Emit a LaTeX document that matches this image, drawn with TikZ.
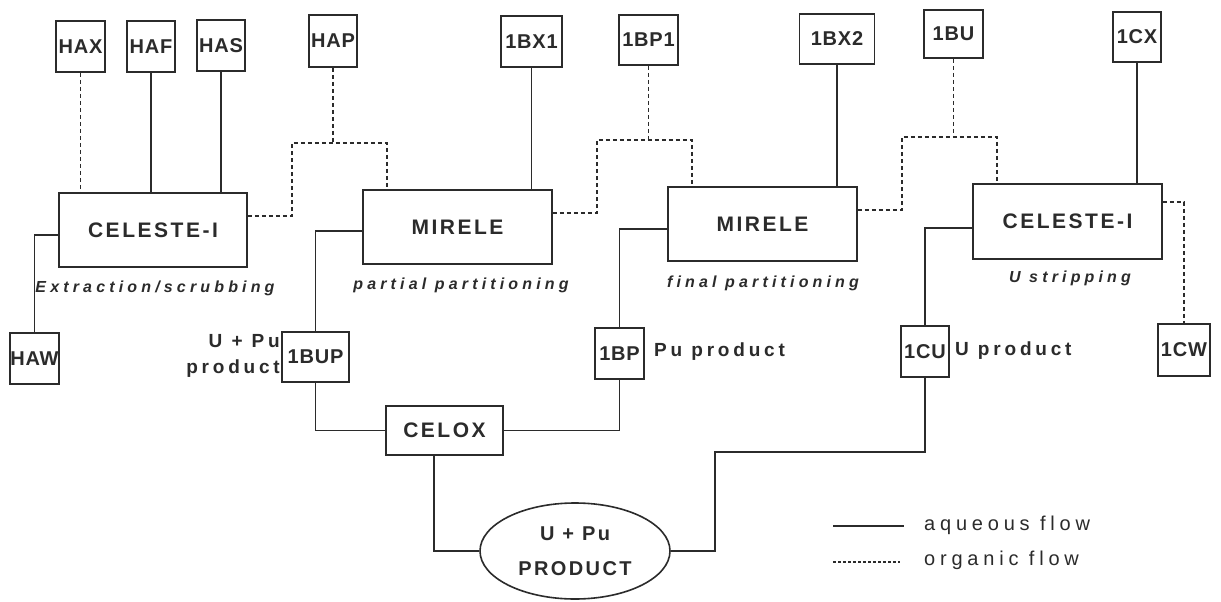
\documentclass[tikz,border=0pt]{standalone}
\usepackage{fontspec}
\setmainfont{Liberation Sans}
\newfontfamily\boxf[LetterSpace=4]{Liberation Sans}
\newfontfamily\bigf[LetterSpace=12]{Liberation Sans}
\newfontfamily\sidef[LetterSpace=20]{Liberation Sans}
\newfontfamily\itf[LetterSpace=26]{Liberation Sans}
\newfontfamily\legf[LetterSpace=24]{Liberation Sans}
\usetikzlibrary{shapes.geometric}
\definecolor{ink}{gray}{0.17}
\begin{document}
\begin{tikzpicture}[x=1pt,y=-1pt,
  aq/.style={draw=ink,line width=1.6pt},
  org/.style={draw=ink,line width=1.5pt,dash pattern=on 4pt off 3pt},
  sbox/.style={draw=ink,line width=1.6pt,inner sep=0pt,text=ink,font=\boxf\bfseries\fontsize{20}{22}\selectfont},
  bbox/.style={draw=ink,line width=1.6pt,inner sep=0pt,text=ink,font=\bigf\bfseries\fontsize{21}{24}\selectfont},
  itlabel/.style={inner sep=0pt,text=ink,font=\itf\bfseries\itshape\fontsize{16}{18}\selectfont},
  sidelabel/.style={inner sep=0pt,text=ink,font=\sidef\bfseries\fontsize{19}{26}\selectfont},
  leglabel/.style={inner sep=0pt,text=ink,font=\legf\fontsize{20}{22}\selectfont}
]
\useasboundingbox[fill=white] (0,0) rectangle (1221,602);

% top feed boxes
\node[sbox,minimum width=49pt,minimum height=51pt] (hax) at (80.5,46.5) {HAX};
\node[sbox,minimum width=48pt,minimum height=51pt] (haf) at (151,46.5) {HAF};
\node[sbox,minimum width=48pt,minimum height=51pt] (has) at (221,45.5) {HAS};
\node[sbox,minimum width=48pt,minimum height=52pt] (hap) at (333,41) {HAP};
\node[sbox,minimum width=61pt,minimum height=51pt] (bx1) at (531.5,41.5) {1BX1};
\node[sbox,minimum width=59pt,minimum height=50pt] (bp1) at (648.5,40) {1BP1};
\node[sbox,minimum width=75pt,minimum height=50pt] (bx2) at (837,39) {1BX2};
\node[sbox,minimum width=59pt,minimum height=48pt] (bu) at (953.5,34) {1BU};
\node[sbox,minimum width=48pt,minimum height=50pt] (cx) at (1137,37) {1CX};

% main contactors
\node[bbox,minimum width=188pt,minimum height=74pt] (cel1) at (153,230) {CELESTE-I};
\node[bbox,minimum width=189pt,minimum height=74pt] (mir1) at (457.5,227) {MIRELE};
\node[bbox,minimum width=189pt,minimum height=74pt] (mir2) at (762.5,224) {MIRELE};
\node[bbox,minimum width=189pt,minimum height=75pt] (cel2) at (1067.5,221.5) {CELESTE-I};

% stage labels
\node[itlabel] (l1) at (155,288) {Extraction/scrubbing};
\node[itlabel] (l2) at (461,285) {partial partitioning};
\node[itlabel] (l3) at (763,283) {final partitioning};
\node[itlabel] (l4) at (1070,278) {U stripping};

% product / waste boxes
\node[sbox,minimum width=49pt,minimum height=51pt] (haw) at (34.5,358.5) {HAW};
\node[sbox,minimum width=67pt,minimum height=50pt] (bup) at (315.5,357) {1BUP};
\node[sbox,minimum width=49pt,minimum height=51pt] (bp) at (619.5,353.5) {1BP};
\node[sbox,minimum width=48pt,minimum height=51pt] (cu) at (925,351.5) {1CU};
\node[sbox,minimum width=52pt,minimum height=52pt] (cw) at (1184,350) {1CW};

\node[sidelabel,align=right,anchor=east] (t1) at (280,356) {U + Pu\\product};
\node[sidelabel,anchor=west] (t2) at (654,352) {Pu product};
\node[sidelabel,anchor=west] (t3) at (955,351) {U product};

\node[bbox,minimum width=117pt,minimum height=49pt] (celox) at (444.5,430.5) {CELOX};
\node[bbox,ellipse,minimum width=190pt,minimum height=96pt,align=center,
      font=\bigf\bfseries\fontsize{20}{35}\selectfont] (prod) at (575,551) {U + Pu\\PRODUCT};

% junction coordinates
\coordinate (j1a) at (292,143);
\coordinate (j1b) at (387,143);
\coordinate (j1c) at (333,143);
\coordinate (j2a) at (597,140);
\coordinate (j2b) at (692,140);
\coordinate (j2c) at (648.5,140);
\coordinate (j3a) at (902,137);
\coordinate (j3b) at (997,137);
\coordinate (j3c) at (953.5,137);
\coordinate (a1) at (715,452);

% organic flows
\draw[org] (hax) -- (hax |- cel1.north);
\draw[org] (hap) -- (j1c);
\draw[org] ([yshift=14pt]cel1.east) -| (j1a) -- (j1b) -- (j1b |- mir1.north);
\draw[org] (bp1) -- (j2c);
\draw[org] ([yshift=14pt]mir1.east) -| (j2a) -- (j2b) -- (j2b |- mir2.north);
\draw[org] (bu) -- (j3c);
\draw[org] ([yshift=14pt]mir2.east) -| (j3a) -- (j3b) -- (j3b |- cel2.north);
\draw[org] ([yshift=19.5pt]cel2.east) -| (cw.north);

% aqueous flows
\draw[aq] (haf) -- (haf |- cel1.north);
\draw[aq] (has) -- (has |- cel1.north);
\draw[aq] (bx1) -- (bx1 |- mir1.north);
\draw[aq] (bx2) -- (bx2 |- mir2.north);
\draw[aq] (cx) -- (cx |- cel2.north);
\draw[aq] ([yshift=-5pt]cel1.west) -| (haw.north);
\draw[aq] ([yshift=-4pt]mir1.west) -| (bup.north);
\draw[aq] ([yshift=-5pt]mir2.west) -| (bp.north);
\draw[aq] ([yshift=-6.5pt]cel2.west) -| (cu.north);
\draw[aq] (bup.south) |- (celox.west);
\draw[aq] (bp.south) |- (celox.east);
\draw[aq] ([xshift=-10.5pt]celox.south) |- (prod.west);
\draw[aq] (cu.south) |- (a1) |- (prod.east);

% legend
\coordinate (la) at (833,526);
\coordinate (lb) at (904,526);
\coordinate (lc) at (833,562);
\coordinate (ld) at (900,562);
\draw[aq,line width=1.3pt] (la) -- (lb);
\draw[draw=ink,line width=1.3pt,dash pattern=on 3pt off 2pt] (lc) -- (ld);
\node[leglabel,anchor=west] (lg1) at (924,525) {aqueous flow};
\node[leglabel,anchor=west] (lg2) at (924,560) {organic flow};
\end{tikzpicture}
\end{document}
